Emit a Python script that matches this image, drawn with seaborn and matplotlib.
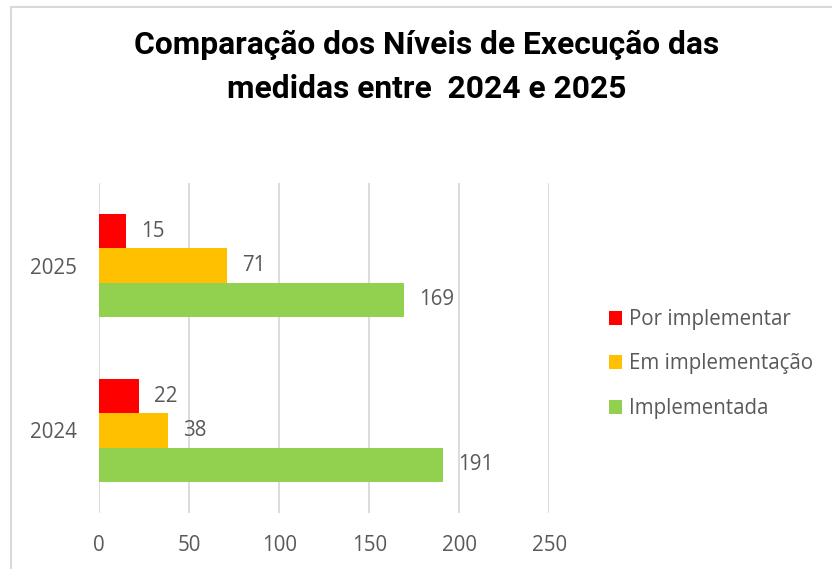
import matplotlib
matplotlib.use("Agg")
import matplotlib.pyplot as plt
from matplotlib.patches import Rectangle
import seaborn as sns
import pandas as pd

# ---- data ----
years = ["2025", "2024"]
series = ["Por implementar", "Em implementação", "Implementada"]
por_implementar = [15, 22]
em_implementacao = [71, 38]
implementada = [169, 191]
colors = ["#FF0000", "#FFC000", "#92D050"]
x_ticks = [0, 50, 100, 150, 200, 250]
title = "Comparação dos Níveis de Execução das\nmedidas entre  2024 e 2025"

rows = []
for s, vals in zip(series, [por_implementar, em_implementacao, implementada]):
    for y, v in zip(years, vals):
        rows.append({"Ano": y, "Série": s, "Valor": v})
df = pd.DataFrame(rows)

sns.set_theme(style="white")
plt.rcParams["font.family"] = ["Open Sans", "DejaVu Sans"]

W, H, DPI = 832, 569, 100
fig = plt.figure(figsize=(W / DPI, H / DPI), dpi=DPI)
fig.patch.set_facecolor("white")

left, right, top, bottom = 99.3, 549.3, 183, 513
ax = fig.add_axes([left / W, 1 - bottom / H, (right - left) / W, (bottom - top) / H])

sns.barplot(data=df, y="Ano", x="Valor", hue="Série", order=years,
            hue_order=series, palette=colors, orient="h", width=0.625,
            gap=0, ax=ax, saturation=1, edgecolor="none", legend=False)

fs = 14.8
txt_color = "#595959"
for cont in ax.containers:
    ax.bar_label(cont, padding=11, fontsize=fs, color=txt_color)

ax.set_xlim(0, 250)
ax.set_xticks(x_ticks)
ax.set_xticklabels([str(t) for t in x_ticks])
ax.set_xlabel("")
ax.set_ylabel("")
ax.grid(axis="x", color="#D9D9D9", linewidth=1.3)
ax.grid(axis="y", visible=False)
ax.set_axisbelow(True)
for sp in ax.spines.values():
    sp.set_visible(False)
ax.tick_params(axis="both", length=0, labelsize=fs, labelcolor=txt_color)
ax.tick_params(axis="x", pad=16)
ax.tick_params(axis="y", pad=16)

handles = [Rectangle((0, 0), 1, 1, facecolor=c, edgecolor="none") for c in colors]
fig.legend(handles, series, loc="center left",
           bbox_to_anchor=(590 / W, 1 - 364 / H), frameon=False,
           fontsize=fs, labelcolor=txt_color, handlelength=0.68,
           handleheight=0.68, handletextpad=0.3, labelspacing=1.14)

fig.text(426.5 / W, 1 - 67 / H, title, ha="center", va="center",
         fontsize=22.9, fontweight="bold", family=["Roboto", "DejaVu Sans"],
         color="black", linespacing=1.6)

fig.patches.append(Rectangle((11 / W, -0.1), 1.2, 1 - 7 / H + 0.1,
                             transform=fig.transFigure, fill=False,
                             edgecolor="#D9D9D9", linewidth=1.5))

fig.savefig("out.png", dpi=DPI)
